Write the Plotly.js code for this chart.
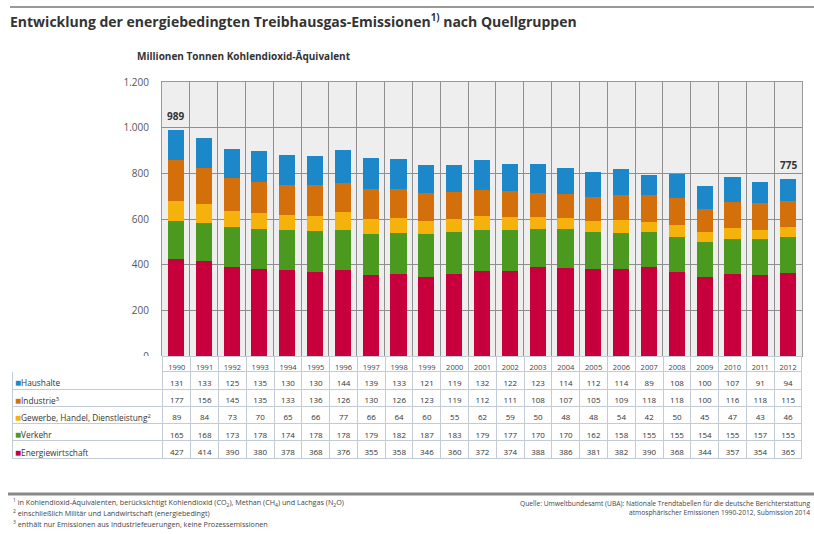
<!DOCTYPE html>
<html>
<head>
<meta charset="utf-8">
<script src="https://cdn.plot.ly/plotly-3.0.1.min.js"></script>
<style>html,body{margin:0;padding:0;background:#fff;}#chart{width:814px;height:534px;}</style>
</head>
<body>
<div id="chart"></div>
<script>
// ---- data ----
var years = ["1990","1991","1992","1993","1994","1995","1996","1997","1998","1999","2000","2001","2002","2003","2004","2005","2006","2007","2008","2009","2010","2011","2012"];
var haushalte = [131,133,125,135,130,130,144,139,133,121,119,132,122,123,114,112,114,89,108,100,107,91,94];
var industrie = [177,156,145,135,133,136,126,130,126,123,119,112,111,108,107,105,109,118,118,100,116,118,115];
var ghd = [89,84,73,70,65,66,77,66,64,60,55,62,59,50,48,48,54,42,50,45,47,43,46];
var verkehr = [165,168,173,178,174,178,178,179,182,187,183,179,177,170,170,162,158,155,155,154,155,157,155];
var energie = [427,414,390,380,378,368,376,355,358,346,360,372,374,388,386,381,382,390,368,344,357,354,365];
var seriesNames = ["Haushalte","Industrie<sup>3</sup>","Gewerbe, Handel, Dienstleistung<sup>2</sup>","Verkehr","Energiewirtschaft"];
var colors = ["#1c87c9","#d4700c","#f5b10c","#4b9a1f","#c7003d"];
var labeledYears = ["1990","2012"];

// ---- layout helpers (pixel -> paper) ----
var W = 814, H = 534;
function px(x){return x/W;}
function py(y){return 1 - y/H;}

var FONT = "Open Sans, Noto Sans, sans-serif";
var seriesData = [haushalte, industrie, ghd, verkehr, energie];

// stacked bars: bottom to top = Energiewirtschaft, Verkehr, GHD, Industrie, Haushalte
var traces = [];
for (var i = seriesData.length - 1; i >= 0; i--) {
  traces.push({
    type: "bar",
    x: years,
    y: seriesData[i],
    name: seriesNames[i],
    marker: {color: colors[i], line: {width: 0}},
    hoverinfo: "x+y+name"
  });
}

// table geometry
var TABLE_TOP = 356, HEADER_H = 15.7, ROW_H = 17.3;
var TABLE_BOTTOM = TABLE_TOP + HEADER_H + ROW_H * seriesNames.length;

var colValues = [seriesNames.map(function(){ return ""; })];
years.forEach(function(y, j){
  colValues.push(seriesData.map(function(s){ return String(s[j]); }));
});
var colWidths = [151].concat(years.map(function(){return 27.8;}));
var headerLineColors = ["rgba(255,255,255,0)"].concat(years.map(function(){return "#c3ccd6";}));
var aligns = ["left"].concat(years.map(function(){return "center";}));

traces.push({
  type: "table",
  domain: {x: [px(12), px(802)], y: [py(TABLE_BOTTOM + 1), py(TABLE_TOP)]},
  columnwidth: colWidths,
  header: {
    values: [""].concat(years),
    height: HEADER_H,
    align: "center",
    fill: {color: "#ffffff"},
    line: {color: headerLineColors, width: 1},
    font: {family: FONT, size: 7.5, color: "#444"}
  },
  cells: {
    values: colValues,
    height: ROW_H,
    align: aligns,
    fill: {color: "#ffffff"},
    line: {color: "#c3ccd6", width: 1},
    font: {family: FONT, size: 8, color: "#333"}
  }
});

var annotations = [];
// row labels (with coloured markers) in the first table column
seriesNames.forEach(function(n, k){
  annotations.push({
    xref: "paper", yref: "paper",
    x: px(13), y: py(TABLE_TOP + HEADER_H + ROW_H * (k + 0.5) + 2),
    xanchor: "left", yanchor: "middle", showarrow: false,
    text: "<span style='color:" + colors[k] + ";font-size:10px'>■</span>" + n,
    font: {family: FONT, size: 8.3, color: "#333"}
  });
});

// totals annotations
labeledYears.forEach(function(yr){
  var j = years.indexOf(yr);
  var tot = 0;
  seriesData.forEach(function(s){ tot += s[j]; });
  annotations.push({
    xref: "x", yref: "y", x: j, y: tot, text: "<b>" + tot + "</b>",
    showarrow: false, yanchor: "bottom", yshift: 5,
    font: {family: FONT, size: 10, color: "#333"}
  });
});

annotations.push({
  xref: "paper", yref: "paper", x: px(135), y: py(56), xanchor: "left", yanchor: "middle",
  text: "<b>Millionen Tonnen Kohlendioxid-Äquivalent</b>", showarrow: false,
  font: {family: FONT, size: 10, color: "#333"}
});

var footnotes = [
  "<sup>1</sup> in Kohlendioxid-Äquivalenten, berücksichtigt Kohlendioxid (CO<sub>2</sub>), Methan (CH<sub>4</sub>) und Lachgas (N<sub>2</sub>O)",
  "<sup>2</sup> einschließlich Militär und Landwirtschaft (energiebedingt)",
  "<sup>3</sup> enthält nur Emissionen aus Industriefeuerungen, keine Prozessemissionen"
];
var footY = [502.5, 513, 523.5];
footnotes.forEach(function(t, k){
  annotations.push({
    xref: "paper", yref: "paper", x: px(11), y: py(footY[k]), xanchor: "left", yanchor: "middle",
    text: t, showarrow: false, font: {family: FONT, size: 7.2, color: "#444"}
  });
});
annotations.push({
  xref: "paper", yref: "paper", x: px(812), y: py(508), xanchor: "right", yanchor: "middle", align: "right",
  text: "Quelle: Umweltbundesamt (UBA): Nationale Trendtabellen für die deutsche Berichterstattung<br>atmosphärischer Emissionen 1990-2012, Submission 2014",
  showarrow: false, font: {family: FONT, size: 6.7, color: "#444"}
});

var shapes = [
  {type: "line", xref: "paper", yref: "paper", x0: px(10), x1: px(814), y0: py(7), y1: py(7),
   line: {color: "#999", width: 2}},
  {type: "line", xref: "paper", yref: "paper", x0: px(8), x1: px(814), y0: py(494), y1: py(494),
   line: {color: "#888", width: 3}}
];

var layout = {
  width: W, height: H, autosize: false,
  margin: {l: 0, r: 0, t: 0, b: 0},
  paper_bgcolor: "#ffffff",
  plot_bgcolor: "#eeeeee",
  separators: ",.",
  showlegend: false,
  barmode: "stack",
  bargap: 0.42,
  title: {
    text: "<b>Entwicklung der energiebedingten Treibhausgas-Emissionen<sup>1)</sup> nach Quellgruppen</b>",
    x: px(10), xanchor: "left", xref: "paper",
    y: py(22), yanchor: "middle", yref: "container",
    font: {family: FONT, size: 14, color: "#333"}
  },
  xaxis: {
    domain: [px(162), px(802)],
    type: "category",
    categoryorder: "array", categoryarray: years,
    range: [-0.5, years.length - 0.5],
    autorange: false,
    tickson: "boundaries",
    showgrid: true, gridcolor: "#8f8f8f", gridwidth: 1,
    showticklabels: false, ticks: "",
    showline: true, linecolor: "#999", mirror: true,
    fixedrange: true
  },
  yaxis: {
    domain: [py(356), py(82)],
    range: [0, 1200], autorange: false, dtick: 200, tick0: 0,
    separatethousands: true,
    showgrid: true, gridcolor: "#8f8f8f", gridwidth: 1,
    zeroline: false,
    showline: true, linecolor: "#999", mirror: true,
    ticks: "", ticklabelstandoff: 10,
    tickfont: {family: FONT, size: 10, color: "#555"},
    fixedrange: true
  },
  annotations: annotations,
  shapes: shapes
};

Plotly.newPlot("chart", traces, layout, {displayModeBar: false, staticPlot: true});
</script>
</body>
</html>
